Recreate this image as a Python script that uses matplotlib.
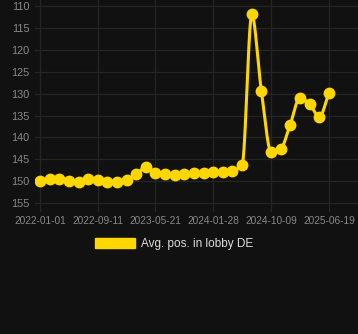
import numpy as np
import matplotlib
matplotlib.use("Agg")
import matplotlib.pyplot as plt
import matplotlib.dates as mdates
from matplotlib.patches import Patch
import datetime as dt

dates = ["2022-01-01", "2022-02-12", "2022-03-26", "2022-05-08", "2022-06-19",
         "2022-07-31", "2022-09-11", "2022-10-23", "2022-12-04", "2023-01-16",
         "2023-02-27", "2023-04-10", "2023-05-21", "2023-07-02", "2023-08-13",
         "2023-09-25", "2023-11-06", "2023-12-18", "2024-01-28", "2024-03-11",
         "2024-04-22", "2024-06-04", "2024-07-16", "2024-08-27", "2024-10-09",
         "2024-11-19", "2024-12-31", "2025-02-12", "2025-03-26", "2025-05-08",
         "2025-06-19"]
values = [150.0, 149.5, 149.5, 150.0, 150.2, 149.5, 149.7, 150.2, 150.2, 149.7,
          148.4, 146.8, 148.1, 148.3, 148.6, 148.4, 148.1, 148.2, 147.9, 147.9,
          147.7, 146.2, 111.9, 129.4, 143.4, 142.7, 137.1, 130.9, 132.4, 135.3,
          129.8]
tick_dates = ["2022-01-01", "2022-09-11", "2023-05-21", "2024-01-28",
              "2024-10-09", "2025-06-19"]
y_ticks = [110, 115, 120, 125, 130, 135, 140, 145, 150, 155]
series_name = "Avg. pos. in lobby DE"

plt.rcParams['font.family'] = ['Liberation Sans', 'DejaVu Sans']

def to_num(s):
    return mdates.date2num(dt.datetime.strptime(s, "%Y-%m-%d"))

x = np.array([to_num(d) for d in dates])
y = np.array(values)

def monotone(x, y, n=30):
    h = np.diff(x)
    d = np.diff(y) / h
    m = np.zeros_like(y)
    m[0] = d[0]
    m[-1] = d[-1]
    for i in range(1, len(y) - 1):
        if d[i - 1] * d[i] <= 0:
            m[i] = 0
        else:
            w1 = 2 * h[i] + h[i - 1]
            w2 = h[i] + 2 * h[i - 1]
            m[i] = (w1 + w2) / (w1 / d[i - 1] + w2 / d[i])
    xs, ys = [], []
    for i in range(len(y) - 1):
        t = np.linspace(0, 1, n, endpoint=False)
        hh = h[i]
        h00 = 2 * t**3 - 3 * t**2 + 1
        h10 = t**3 - 2 * t**2 + t
        h01 = -2 * t**3 + 3 * t**2
        h11 = t**3 - t**2
        xs.append(x[i] + t * hh)
        ys.append(h00 * y[i] + h10 * hh * m[i] + h01 * y[i + 1] + h11 * hh * m[i + 1])
    xs.append([x[-1]])
    ys.append([y[-1]])
    return np.concatenate(xs), np.concatenate(ys)

xs, ys = monotone(x, y)

bg = "#111111"
fig = plt.figure(figsize=(3.58, 3.34), dpi=100, facecolor=bg)
ax = fig.add_axes([35 / 358, (334 - 212) / 334, 1 - 35 / 358, 212 / 334])
ax.set_facecolor(bg)

color = "#FFD700"
ax.plot(xs, ys, color=color, lw=2.2, zorder=3, solid_capstyle="round")
ax.plot(x, y, "o", color=color, ms=7.5, zorder=4)

x0 = to_num("2022-01-01")
px = 1265 / 289.0
ax.set_xlim(x0 - 5 * px, x0 + 318 * px)
ax.set_ylim(157.05, 108.6)
ax.set_yticks(y_ticks)
ax.set_xticks([to_num(d) for d in tick_dates])
ax.set_xticklabels(tick_dates)

ax.grid(True, color="#252525", lw=0.9)
for s in ax.spines.values():
    s.set_visible(False)
ax.tick_params(axis="both", colors="#888888", length=0)
ax.tick_params(axis="x", pad=3, labelsize=7.3)
ax.tick_params(axis="y", pad=4, labelsize=7.8)

handle = Patch(facecolor=color, edgecolor=color)
fig.legend([handle], [series_name], loc="center", bbox_to_anchor=(0.487, 1 - 244 / 334),
           frameon=False, fontsize=8.5, labelcolor="#dddddd",
           handlelength=3.4, handleheight=1.0, handletextpad=0.5)

fig.savefig("out.png", dpi=100, facecolor=bg)
